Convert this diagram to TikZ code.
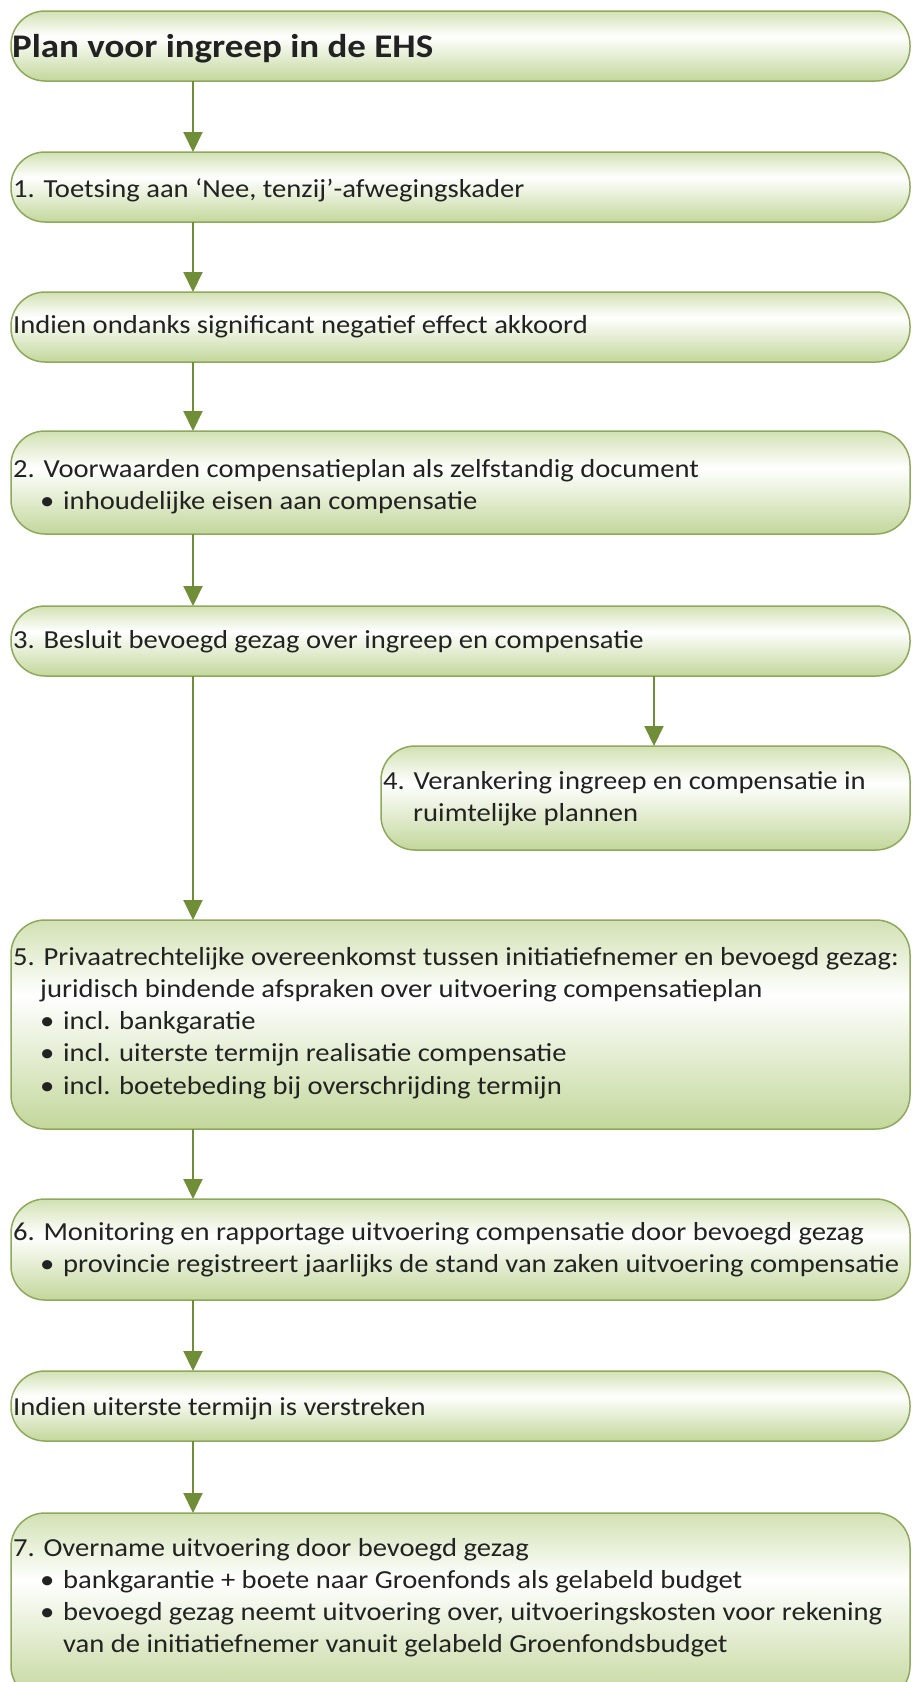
\documentclass[tikz,border=0pt]{standalone}
\usepackage{fontspec}
\setmainfont{Carlito}[FakeStretch=1.1]
\newfontfamily\titlefont{Carlito}[FakeStretch=1.12]
\usetikzlibrary{arrows.meta}
\definecolor{edgeG}{HTML}{8EA95C}
\definecolor{arrG}{HTML}{6F8E37}
\definecolor{topG}{HTML}{D2E1B3}
\definecolor{botG}{HTML}{C3D79B}
\definecolor{txtC}{HTML}{222222}
\pgfdeclareverticalshading{boxshade}{100bp}{color(0bp)=(botG); color(25bp)=(botG); color(57bp)=(white); color(75bp)=(topG); color(100bp)=(topG)}
\tikzset{
  stepbox/.style={draw=edgeG, line width=1.5pt, rounded corners=34pt, shading=boxshade, inner sep=0pt},
  arr/.style={draw=arrG, line width=2pt, -{Triangle[width=19pt,length=20pt]}},
  txt/.style={inner sep=0pt, text=txtC, font=\fontsize{26}{32.3}\selectfont},
}
\newcommand{\bul}{\makebox[23pt][l]{\textbullet}}
\begin{document}
\begin{tikzpicture}[x=1pt,y=-1pt]
\useasboundingbox (0,0) rectangle (913,1682);
\begin{scope}
\clip (0,0) rectangle (913,1682);
% boxes
\path[stepbox] (11,11) rectangle (910,81) node[midway] (b0) {};
\path[stepbox] (11,152) rectangle (910,222) node[midway] (b1) {};
\path[stepbox] (11,292) rectangle (910,362) node[midway] (b1b) {};
\path[stepbox] (11,431) rectangle (910,534) node[midway] (b2) {};
\path[stepbox] (11,606) rectangle (910,676) node[midway] (b3) {};
\path[stepbox] (381,746) rectangle (910,850) node[midway] (b4) {};
\path[stepbox] (11,920) rectangle (910,1129) node[midway] (b5) {};
\path[stepbox] (11,1199) rectangle (910,1300) node[midway] (b6) {};
\path[stepbox] (11,1371) rectangle (910,1441) node[midway] (b6b) {};
\path[stepbox] (11,1513) rectangle (910,1700) node[midway] (b7) {};
\end{scope}
% connector end points on the boxes
\coordinate (b0s) at (193,81);
\coordinate (b1n) at (193,152); \coordinate (b1s) at (193,222);
\coordinate (b1bn) at (193,292); \coordinate (b1bs) at (193,362);
\coordinate (b2n) at (193,431); \coordinate (b2s) at (193,534);
\coordinate (b3n) at (193,606); \coordinate (b3s) at (193,676);
\coordinate (b3r) at (654,676); \coordinate (b4n) at (654,746);
\coordinate (b5n) at (193,920); \coordinate (b5s) at (193,1129);
\coordinate (b6n) at (193,1199); \coordinate (b6s) at (193,1300);
\coordinate (b6bn) at (193,1371); \coordinate (b6bs) at (193,1441);
\coordinate (b7n) at (193,1513);
% connectors
\draw[arr] (b0s) -- (b1n);
\draw[arr] (b1s) -- (b1bn);
\draw[arr] (b1bs) -- (b2n);
\draw[arr] (b2s) -- (b3n);
\draw[arr] (b3r) -- (b4n);
\draw[arr] (b3s) -- (b5n);
\draw[arr] (b5s) -- (b6n);
\draw[arr] (b6s) -- (b6bn);
\draw[arr] (b6bs) -- (b7n);
% texts
\node[txt, anchor=base west, font=\titlefont\fontsize{33}{38}\selectfont\bfseries] (t0) at (12,57) {Plan voor ingreep in de EHS};
\node[txt, anchor=base west] (t1) at (13,197) {1. Toetsing aan ‘Nee, tenzij’-afwegingskader};
\node[txt, anchor=base west] (t1b) at (13,333) {Indien ondanks significant negatief effect akkoord};
\node[txt, anchor=base west] (t2) at (13,477) {\begin{tabular}[t]{@{}l@{}}2. Voorwaarden compensatieplan als zelfstandig document\\
\hspace{27pt}\bul inhoudelijke eisen aan compensatie\end{tabular}};
\node[txt, anchor=base west] (t3) at (13,648) {3. Besluit bevoegd gezag over ingreep en compensatie};
\node[txt, anchor=base west] (t4) at (383,789) {\begin{tabular}[t]{@{}l@{}}4. Verankering ingreep en compensatie in\\
\hspace{30pt}ruimtelijke plannen\end{tabular}};
\node[txt, anchor=base west] (t5) at (13,965) {\begin{tabular}[t]{@{}l@{}}5. Privaatrechtelijke overeenkomst tussen initiatiefnemer en bevoegd gezag:\\
\hspace{27pt}juridisch bindende afspraken over uitvoering compensatieplan\\
\hspace{27pt}\bul incl. bankgaratie\\
\hspace{27pt}\bul incl. uiterste termijn realisatie compensatie\\
\hspace{27pt}\bul incl. boetebeding bij overschrijding termijn\end{tabular}};
\node[txt, anchor=base west] (t6) at (13,1240) {\begin{tabular}[t]{@{}l@{}}6. Monitoring en rapportage uitvoering compensatie door bevoegd gezag\\
\hspace{27pt}\bul provincie registreert jaarlijks de stand van zaken uitvoering compensatie\end{tabular}};
\node[txt, anchor=base west] (t6b) at (13,1415) {Indien uiterste termijn is verstreken};
\node[txt, anchor=base west] (t7) at (13,1556) {\begin{tabular}[t]{@{}l@{}}7. Overname uitvoering door bevoegd gezag\\
\hspace{27pt}\bul bankgarantie + boete naar Groenfonds als gelabeld budget\\
\hspace{27pt}\bul bevoegd gezag neemt uitvoering over, uitvoeringskosten voor rekening\\
\hspace{50pt}van de initiatiefnemer vanuit gelabeld Groenfondsbudget\end{tabular}};
\end{tikzpicture}
\end{document}
